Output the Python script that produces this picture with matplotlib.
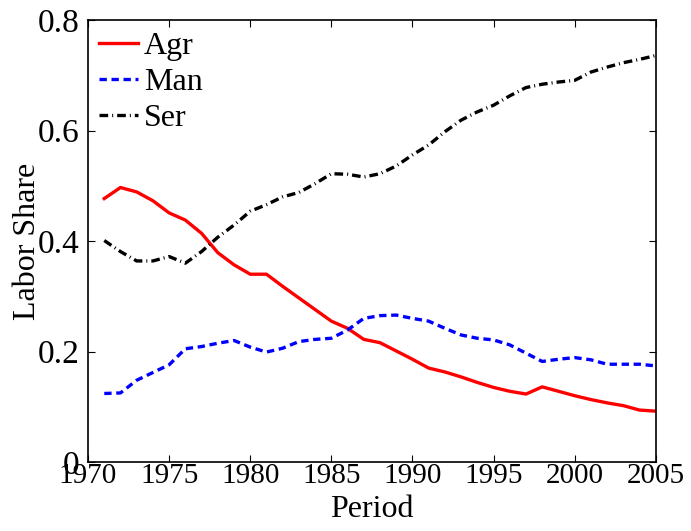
import matplotlib
matplotlib.use("Agg")
import matplotlib.pyplot as plt

years = list(range(1971, 2006))
agr = [0.477, 0.497, 0.489, 0.473, 0.451, 0.438, 0.414, 0.379, 0.357, 0.340,
       0.340, 0.318, 0.297, 0.276, 0.255, 0.242, 0.222, 0.216, 0.201, 0.186,
       0.170, 0.163, 0.154, 0.144, 0.135, 0.128, 0.123, 0.136, 0.128, 0.120,
       0.113, 0.107, 0.102, 0.094, 0.092]
man = [0.124, 0.125, 0.148, 0.162, 0.176, 0.205, 0.209, 0.215, 0.220, 0.208,
       0.199, 0.206, 0.218, 0.222, 0.224, 0.239, 0.260, 0.265, 0.266, 0.260,
       0.255, 0.242, 0.230, 0.224, 0.221, 0.212, 0.197, 0.182, 0.186, 0.189,
       0.185, 0.177, 0.177, 0.177, 0.174]
ser = [0.401, 0.381, 0.364, 0.364, 0.372, 0.360, 0.381, 0.407, 0.429, 0.454,
       0.466, 0.480, 0.488, 0.504, 0.522, 0.521, 0.516, 0.522, 0.536, 0.556,
       0.574, 0.598, 0.619, 0.634, 0.646, 0.663, 0.678, 0.684, 0.688, 0.691,
       0.706, 0.715, 0.723, 0.729, 0.736]
xticks = list(range(1970, 2006, 5))
yticks = [0, 0.2, 0.4, 0.6, 0.8]
ytick_labels = ["0", "0.2", "0.4", "0.6", "0.8"]

plt.rcParams["font.family"] = ["Liberation Serif", "DejaVu Serif"]
plt.rcParams["font.size"] = 22

fig = plt.figure(figsize=(6.91, 5.31), dpi=100)
ax = fig.add_axes([0.1274, 0.130, 0.8216, 0.832])

ax.plot(years, agr, color="red", linewidth=2.4, label="Agr")
ax.plot(years, man, color="blue", linewidth=2.4, linestyle=(0, (2.2, 1.4)), label="Man")
ax.plot(years, ser, color="black", linewidth=2.4, linestyle=(0, (2.6, 1.2, 0.3, 1.2)), label="Ser")

ax.set_xlim(1970, 2005)
ax.set_ylim(0, 0.8)
ax.set_xticks(xticks)
ax.set_yticks(yticks)
ax.set_yticklabels(ytick_labels)
ax.tick_params(direction="in", top=True, right=True, length=5, width=0.8)
ax.tick_params(axis="y", labelsize=24, pad=6)
ax.tick_params(axis="x", labelsize=21, pad=1)
for s in ax.spines.values():
    s.set_linewidth(1.2)

ax.set_xlabel("Period", fontsize=23, labelpad=4)
ax.set_ylabel("Labor Share", fontsize=23, labelpad=-3)

ax.legend(loc="upper left", bbox_to_anchor=(0.0, 1.0), frameon=False,
          handlelength=1.2, handletextpad=0.2, labelspacing=0.22,
          borderaxespad=0.05, borderpad=0.3, fontsize=23)

fig.savefig("out.png", dpi=100)
